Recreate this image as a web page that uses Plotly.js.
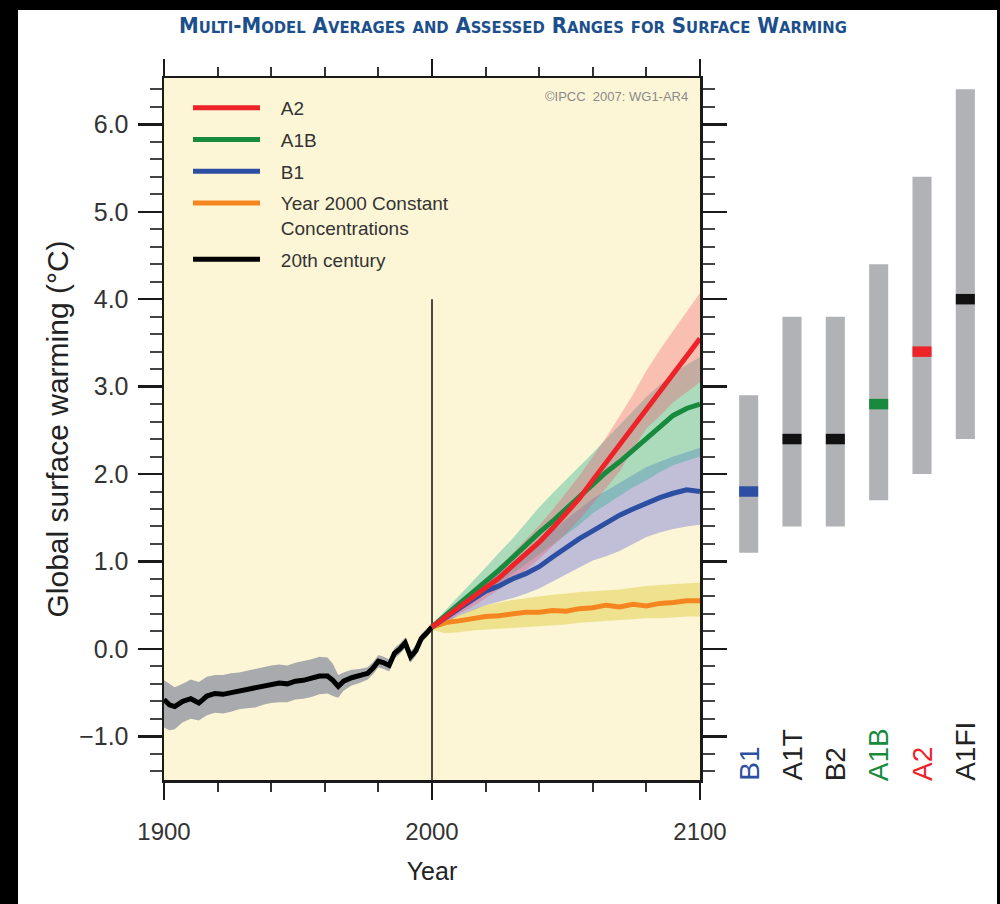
<!DOCTYPE html>
<html><head><meta charset="utf-8">
<script src="https://cdn.plot.ly/plotly-3.0.1.min.js"></script>
<style>html,body{margin:0;padding:0;background:#000;}#chart{width:1000px;height:904px;}</style>
</head><body><div id="chart"></div>
<script>
// ---- 20th century (model mean and range) ----
const years20 = [1900,1902,1904,1907,1910,1913,1916,1919,1922,1925,1928,1931,1934,1937,1940,1943,1946,1949,1952,1955,1958,1961,1963,1965,1967,1970,1973,1976,1978,1980,1982,1984,1986,1988,1990,1992,1994,1996,1998,2000];
const mean20 = [-0.58,-0.64,-0.66,-0.60,-0.57,-0.62,-0.54,-0.51,-0.52,-0.50,-0.48,-0.47,-0.45,-0.42,-0.40,-0.39,-0.40,-0.37,-0.36,-0.34,-0.31,-0.31,-0.36,-0.43,-0.37,-0.33,-0.31,-0.28,-0.22,-0.14,-0.16,-0.19,-0.05,0.00,0.07,-0.09,-0.02,0.12,0.18,0.25];
const hi20 = [-0.36,-0.40,-0.44,-0.40,-0.35,-0.38,-0.32,-0.30,-0.30,-0.28,-0.27,-0.25,-0.23,-0.21,-0.19,-0.18,-0.19,-0.16,-0.14,-0.12,-0.09,-0.10,-0.17,-0.30,-0.27,-0.24,-0.23,-0.21,-0.15,-0.07,-0.09,-0.12,0.01,0.06,0.13,-0.03,0.04,0.17,0.23,0.29];
const lo20 = [-0.90,-0.93,-0.92,-0.84,-0.80,-0.82,-0.76,-0.73,-0.74,-0.72,-0.69,-0.68,-0.67,-0.64,-0.62,-0.61,-0.61,-0.58,-0.57,-0.55,-0.52,-0.51,-0.54,-0.56,-0.48,-0.42,-0.39,-0.35,-0.29,-0.21,-0.23,-0.26,-0.11,-0.06,0.01,-0.16,-0.08,0.07,0.13,0.21];

// ---- 21st century projections ----
const yearsProj = [2000,2005,2010,2015,2020,2025,2030,2035,2040,2045,2050,2055,2060,2065,2070,2075,2080,2085,2090,2095,2100];
const a2Mean = [0.25,0.36,0.47,0.58,0.69,0.81,0.95,1.08,1.22,1.38,1.55,1.72,1.93,2.13,2.33,2.54,2.74,2.95,3.15,3.35,3.55];
const a2Lo   = [0.22,0.30,0.40,0.48,0.58,0.68,0.80,0.90,1.03,1.17,1.32,1.48,1.66,1.84,2.03,2.28,2.52,2.66,2.82,2.94,3.05];
const a2Hi   = [0.28,0.42,0.55,0.67,0.80,0.94,1.09,1.25,1.41,1.59,1.78,1.98,2.20,2.42,2.66,2.91,3.18,3.42,3.64,3.86,4.07];
const a1bMean = [0.25,0.38,0.50,0.63,0.77,0.90,1.04,1.19,1.33,1.46,1.60,1.74,1.89,2.02,2.14,2.27,2.40,2.54,2.67,2.75,2.80];
const a1bLo   = [0.22,0.32,0.42,0.52,0.63,0.75,0.86,0.97,1.08,1.19,1.30,1.42,1.55,1.65,1.75,1.85,1.93,2.02,2.10,2.15,2.20];
const a1bHi   = [0.28,0.44,0.60,0.76,0.93,1.10,1.26,1.44,1.62,1.78,1.93,2.08,2.24,2.40,2.56,2.72,2.88,3.02,3.15,3.25,3.34];
const b1Mean = [0.25,0.36,0.46,0.56,0.66,0.72,0.80,0.86,0.94,1.05,1.16,1.26,1.35,1.44,1.53,1.60,1.67,1.73,1.78,1.82,1.80];
const b1Lo   = [0.22,0.30,0.38,0.44,0.50,0.54,0.58,0.63,0.69,0.77,0.85,0.93,1.01,1.06,1.12,1.20,1.28,1.33,1.37,1.40,1.42];
const b1Hi   = [0.28,0.42,0.55,0.67,0.78,0.88,0.98,1.09,1.20,1.34,1.48,1.60,1.72,1.81,1.90,1.99,2.08,2.14,2.20,2.25,2.30];
const constMean = [0.25,0.30,0.32,0.35,0.37,0.38,0.40,0.42,0.42,0.44,0.43,0.46,0.47,0.50,0.48,0.51,0.49,0.52,0.53,0.55,0.55];
const constLo   = [0.22,0.18,0.19,0.21,0.22,0.23,0.24,0.25,0.26,0.27,0.28,0.30,0.31,0.32,0.33,0.34,0.35,0.35,0.36,0.37,0.37];
const constHi   = [0.27,0.33,0.38,0.45,0.50,0.53,0.56,0.58,0.60,0.62,0.63,0.65,0.66,0.67,0.68,0.70,0.72,0.73,0.74,0.75,0.76];

// ---- assessed likely ranges at 2090-2099 ----
const scenarioNames = ['B1','A1T','B2','A1B','A2','A1FI'];
const scenarioBest  = [1.8,2.4,2.4,2.8,3.4,4.0];
const scenarioLow   = [1.1,1.4,1.4,1.7,2.0,2.4];
const scenarioHigh  = [2.9,3.8,3.8,4.4,5.4,6.4];
const scenarioColors = ['#2c4fa3','#111111','#111111','#178a3e','#ee2229','#111111'];
const scenarioLabelColors = ['#2c4fa3','#222222','#222222','#178a3e','#ee2229','#222222'];

const yTickVals = [-1,0,1,2,3,4,5,6];
const yTickText = ['\u22121.0','0.0','1.0','2.0','3.0','4.0','5.0','6.0'];
const xTickVals = [1900,2000,2100];
const dividerYear = 2000, dividerTop = 4.0;
const yMin = -1.5, yMax = 6.53;

const FONT = 'Liberation Sans, Arial, Helvetica, sans-serif';
const PAD = '\u00A0\u00A0\u00A0';

function band(xs, lo, hi, color, name){
  return {type:'scatter', mode:'lines', x: xs.concat(xs.slice().reverse()),
    y: hi.concat(lo.slice().reverse()), fill:'toself', fillcolor:color,
    line:{width:0}, hoverinfo:'skip', showlegend:false, name:name};
}
function line(xs, ys, color, name, rank){
  const label = name.split('<br>').map(s => PAD + s).join('<br>');
  return {type:'scatter', mode:'lines', x:xs, y:ys, name:label, legendgroup:name, legendrank:rank,
    line:{color:color, width:5}};
}

const traces = [
  band(years20, lo20, hi20, '#a8aaad', '20th band'),
  band(yearsProj, constLo, constHi, 'rgba(225,205,70,0.5)', 'const band'),
  band(yearsProj, b1Lo, b1Hi, 'rgba(120,125,220,0.45)', 'B1 band'),
  band(yearsProj, a1bLo, a1bHi, 'rgba(50,180,150,0.4)', 'A1B band'),
  band(yearsProj, a2Lo, a2Hi, 'rgba(240,90,110,0.35)', 'A2 band'),
  line(years20, mean20, '#000000', '20th century', 5),
  line(yearsProj, constMean, '#f5861f', 'Year 2000 Constant<br>Concentrations', 4),
  line(yearsProj, b1Mean, '#2c4fa3', 'B1', 3),
  line(yearsProj, a1bMean, '#178a3e', 'A1B', 2),
  line(yearsProj, a2Mean, '#ee2229', 'A2', 1)
];

const idx = scenarioNames.map((_, i) => i);
const markThick = 0.12;
traces.push({type:'bar', xaxis:'x2', yaxis:'y', x: idx,
  y: scenarioHigh.map((h, i) => h - scenarioLow[i]), base: scenarioLow,
  width: 0.44, marker:{color:'#b1b2b6', line:{width:0}}, showlegend:false, hoverinfo:'skip'});
traces.push({type:'bar', xaxis:'x2', yaxis:'y', x: idx,
  y: scenarioBest.map(() => markThick), base: scenarioBest.map(b => b - markThick/2),
  width: 0.44, marker:{color:scenarioColors, line:{width:0}}, showlegend:false, hoverinfo:'skip'});

function smallCaps(str, small){
  return str.split(' ').map(w => w.split('-').map(p => {
    const isCap = p.charAt(0) === p.charAt(0).toUpperCase();
    if (isCap) return p.charAt(0) + (p.length > 1 ? '<span style="font-size:' + small + 'px">' + p.slice(1).toUpperCase() + '</span>' : '');
    return '<span style="font-size:' + small + 'px">' + p.toUpperCase() + '</span>';
  }).join('-')).join(' ');
}
const titleText = smallCaps('Multi-Model Averages and Assessed Ranges for Surface Warming', 16.5);

const annotations = scenarioNames.map((n, i) => ({
  xref:'x2', yref:'y', x:i, y:yMin, xanchor:'center', yanchor:'bottom', yshift:-3,
  textangle:-90, text:n, showarrow:false,
  font:{family:FONT, size:28, color:scenarioLabelColors[i]}
}));
annotations.push({xref:'paper', yref:'paper', x:0.690, y:1-97/904, xanchor:'right', yanchor:'middle',
  text:'\u00A9IPCC  2007: WG1-AR4', showarrow:false, font:{family:FONT, size:13, color:'#8a8a8a'}});

const layout = {
  width:1000, height:904,
  margin:{l:0, r:0, t:0, b:0, pad:0},
  paper_bgcolor:'#000000', plot_bgcolor:'rgba(0,0,0,0)',
  showlegend:true,
  barmode:'overlay',
  title:{text:titleText, x:0.513, xanchor:'center', y:1-25/904, yanchor:'middle',
    font:{family:'Liberation Sans Narrow, DejaVu Sans Condensed, Arial Narrow, sans-serif', size:22, color:'#1d4f8c', weight:'bold'}},
  xaxis:{domain:[0.164, 0.700], range:[1900, 2100], showgrid:false, zeroline:false,
    showline:true, linecolor:'#1a1a1a', linewidth:2.5, mirror:'ticks',
    ticks:'outside', tickvals:xTickVals, ticklen:17, tickwidth:2.5, tickcolor:'#1a1a1a',
    minor:{dtick:20, tick0:1900, ticks:'outside', ticklen:9, tickwidth:2, tickcolor:'#333333'},
    tickfont:{family:FONT, size:24, color:'#333333'}, ticklabelstandoff:12,
    title:{text:'Year', font:{family:FONT, size:25, color:'#222222'}, standoff:18},
    fixedrange:true},
  yaxis:{domain:[1-780/904, 1-78/904], range:[yMin, yMax], showgrid:false, zeroline:false,
    showline:true, linecolor:'#1a1a1a', linewidth:2.5, mirror:'ticks',
    ticks:'outside', tickvals:yTickVals, ticktext:yTickText, ticklen:24, tickwidth:2.5, tickcolor:'#1a1a1a',
    minor:{dtick:0.2, tick0:0, ticks:'outside', ticklen:12, tickwidth:2, tickcolor:'#444444'},
    tickfont:{family:FONT, size:25, color:'#333333'}, ticklabelstandoff:4,
    title:{text:'Global surface warming (\u00B0C)', font:{family:FONT, size:30, color:'#222222'}, standoff:2},
    fixedrange:true},
  xaxis2:{domain:[0.727, 0.987], range:[-0.5, 5.5], anchor:'y', visible:false, fixedrange:true},
  legend:{x:0.188, y:1-89/904, xanchor:'left', yanchor:'top', bgcolor:'rgba(0,0,0,0)',
    font:{family:FONT, size:19, color:'#333333'}, traceorder:'grouped', tracegroupgap:4,
    itemwidth:67, valign:'top'},
  shapes:[
    {type:'rect', xref:'paper', yref:'paper', x0:18/1000, x1:997/1000, y0:0, y1:1-10/904,
      fillcolor:'#ffffff', line:{width:0}, layer:'below'},
    {type:'rect', xref:'x domain', yref:'y domain', x0:0, x1:1, y0:0, y1:1,
      fillcolor:'#fdf6d6', line:{width:0}, layer:'below'},
    {type:'line', xref:'x', yref:'y', x0:dividerYear, x1:dividerYear, y0:yMin, y1:dividerTop,
      line:{color:'#111111', width:1.5}, layer:'below'}
  ],
  annotations:annotations
};

Plotly.newPlot('chart', traces, layout, {staticPlot:true, displayModeBar:false});
</script></body></html>
